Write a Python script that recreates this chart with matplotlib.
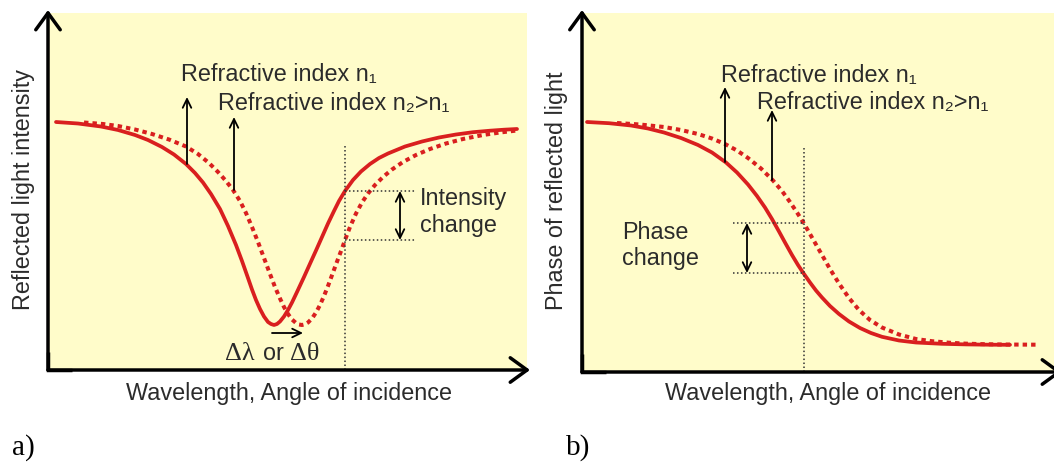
import matplotlib
matplotlib.use("Agg")
import matplotlib.pyplot as plt
from matplotlib.lines import Line2D

plt.rcParams['font.family'] = ['Liberation Sans', 'DejaVu Sans']

# ---- Panel a: reflected intensity dip (arbitrary units) ----
dip_n1_x = [8, 30, 53, 70, 87, 100, 114, 126, 138, 147, 155, 163, 172, 180, 188, 194,
            200, 204, 208, 212, 216, 220, 223, 226, 229, 232, 236, 240, 244, 249, 256,
            263, 268, 274, 280, 286, 291, 297, 305, 313, 322, 331, 340, 357, 374, 391,
            408, 425, 442, 456, 469]
dip_n1_y = [248, 246.5, 243.5, 240, 235, 230, 223, 215.5, 206, 197, 187.5, 176, 161, 144,
            125, 109, 92, 80.5, 70, 61, 53.5, 48, 46, 45, 46, 48.5, 53.5, 60, 67.5, 78, 93,
            108.5, 119.5, 133, 146.5, 159, 169, 179, 190, 198.5, 206, 212, 216.5, 223.5,
            228.5, 232.5, 235.5, 237.8, 239.3, 240.3, 241]
dip_n2_x = [36, 55, 70, 87, 104, 121, 138, 150, 161, 170, 178, 185, 192, 198, 204, 210,
            216, 222, 227, 232, 236, 240, 244, 248, 251, 254, 257, 260, 264, 268, 272,
            276, 280, 285, 290, 294, 297, 302, 308, 314, 320, 327, 335, 344, 355, 368,
            382, 398, 415, 435, 452, 469]
dip_n2_y = [247.5, 246, 244, 240.5, 236, 230.5, 223.5, 216, 207, 198, 189, 180, 169, 157,
            143, 128, 112, 96, 83, 71.5, 63, 56, 50.5, 47, 45.5, 45, 45.7, 47.5, 51.5,
            57.5, 65, 74, 84, 97.5, 111, 121.5, 130, 143, 156.5, 167.5, 176.5, 185, 193,
            200.5, 208, 215, 221, 226.5, 231, 235, 237.5, 239.5]

# ---- Panel b: phase of reflected light (arbitrary units) ----
phase_n1_x = [5, 27, 49, 66, 82, 99, 116, 130, 144, 155, 166, 175, 183, 190, 197, 203,
              210, 216, 221, 228, 234, 240, 248, 257, 267, 278, 289, 300, 317, 334, 360,
              384, 406, 428]
phase_n1_y = [250, 248.8, 246.5, 243.5, 239.5, 234, 227, 219.5, 209.5, 199.5, 187.5,
              176, 164.5, 153, 140.5, 129.5, 117, 107, 99.5, 89.5, 81.5, 74.5, 66, 58,
              50.5, 44, 39, 35.2, 31.5, 29.5, 28.2, 27.6, 27.3, 27.2]
phase_n2_x = [35, 58, 82, 99, 116, 130, 143, 155, 166, 179, 191, 200, 208, 216, 221,
              226, 232, 240, 248, 257, 267, 277, 288, 300, 317, 334, 350, 367, 383, 398,
              420, 455]
phase_n2_y = [249, 247.5, 245, 242, 238, 233.5, 228, 221.5, 214, 203.5, 191.5, 181,
              170, 158, 150, 141.5, 131, 117, 103, 88.5, 74, 62, 52, 44.5, 37.5, 33,
              30.8, 29.3, 28.4, 27.9, 27.5, 27.3]

# operating point and readouts (where each curve crosses the probe line)
probe_a_x = 297
probe_a_levels = [179, 130]
probe_b_x = 221.5
probe_b_levels = [149, 99]

label_n1 = 'Refractive index n\u2081'
label_n2 = 'Refractive index n\u2082>n\u2081'

W, H = 1054, 462
RED = '#d91f1f'
INK = '#2b2b2b'
BG = '#fffcca'
FS = 16.8

fig = plt.figure(figsize=(W / 100, H / 100), dpi=100)
fig.patch.set_facecolor('white')


def px_axes(left, right, bottom, top):
    return fig.add_axes([left / W, 1 - bottom / H, (right - left) / W, (bottom - top) / H])


ax_a = px_axes(48, 527, 370, 13)
ax_a.set_xlim(0, 479)
ax_a.set_ylim(0, 357)
ax_b = px_axes(582, 1054, 372, 13)
ax_b.set_xlim(0, 472)
ax_b.set_ylim(0, 359)

for ax in (ax_a, ax_b):
    ax.set_facecolor(BG)
    for s in ax.spines.values():
        s.set_visible(False)
    ax.set_xticks([])
    ax.set_yticks([])


def axis_arrows(ax, xtip, ytip):
    kw = dict(arrowstyle='->,head_length=0.55,head_width=0.4', lw=2.5, color='black',
              shrinkA=0, shrinkB=0, mutation_scale=22)
    ax.annotate('', xy=(0, ytip), xytext=(0, 0), xycoords='axes fraction',
                arrowprops=kw, annotation_clip=False)
    ax.annotate('', xy=(xtip, 0), xytext=(0, 0), xycoords='axes fraction',
                arrowprops=kw, annotation_clip=False)
    ax.add_line(Line2D([0, 0, 0.05], [0.05, 0, 0], transform=ax.transAxes, color='black',
                       lw=2.5, solid_joinstyle='miter', solid_capstyle='butt',
                       clip_on=False))


axis_arrows(ax_a, 1 + 3 / 479, 1 + 3 / 357)
axis_arrows(ax_b, 1 + 8 / 472, 1 + 3 / 359)

dotted = (0, (1.1, 1.0))
guide = dict(color='#333333', lw=1.1, ls=(0, (1, 1.6)))
thin_arrow = dict(arrowstyle='->,head_length=0.45,head_width=0.22', lw=1.3, color='black',
                  shrinkA=0, shrinkB=0, mutation_scale=14)
double_arrow = dict(arrowstyle='<->,head_length=0.45,head_width=0.22', lw=1.3,
                    color='black', shrinkA=0, shrinkB=0, mutation_scale=14)
serif = ['Liberation Serif', 'DejaVu Serif']

# ---- draw panel a ----
ax_a.plot(dip_n2_x, dip_n2_y, color=RED, lw=2.9, ls=dotted, dash_capstyle='butt')
ax_a.plot(dip_n1_x, dip_n1_y, color=RED, lw=2.7, solid_capstyle='round',
          solid_joinstyle='round')
ax_a.plot([probe_a_x, probe_a_x], [0, 226], **guide)
for lv in probe_a_levels:
    ax_a.plot([probe_a_x, 367], [lv, lv], **guide)
ax_a.annotate('', xy=(352, probe_a_levels[0]), xytext=(352, probe_a_levels[1]),
              arrowprops=double_arrow)
ax_a.text(372, 165, 'Intensity', fontsize=FS, color=INK, va='baseline')
ax_a.text(372, 138, 'change', fontsize=FS, color=INK, va='baseline')

ax_a.annotate('', xy=(139, 273), xytext=(139, 206), arrowprops=thin_arrow)
ax_a.annotate('', xy=(186, 253), xytext=(186, 180), arrowprops=thin_arrow)
ax_a.text(133, 289, label_n1, fontsize=FS, color=INK, va='baseline')
ax_a.text(170, 260, label_n2, fontsize=FS, color=INK, va='baseline')

ax_a.annotate('', xy=(255, 37), xytext=(224, 37), arrowprops=thin_arrow)
ax_a.text(207, 10, 'Δλ', fontsize=FS + 2, color=INK, va='baseline', ha='right',
          family=serif)
ax_a.text(225, 10, 'or', fontsize=FS, color=INK, va='baseline', ha='center')
ax_a.text(242, 10, 'Δθ', fontsize=FS + 2, color=INK, va='baseline', ha='left',
          family=serif)

# ---- draw panel b ----
ax_b.plot(phase_n2_x, phase_n2_y, color=RED, lw=2.9, ls=dotted, dash_capstyle='butt')
ax_b.plot(phase_n1_x, phase_n1_y, color=RED, lw=2.7, solid_capstyle='round',
          solid_joinstyle='round')
ax_b.plot([probe_b_x, probe_b_x], [0, 224], **guide)
for lv in probe_b_levels:
    ax_b.plot([151, probe_b_x], [lv, lv], **guide)
ax_b.annotate('', xy=(165, probe_b_levels[0]), xytext=(165, probe_b_levels[1]),
              arrowprops=double_arrow)
ax_b.text(40, 133, 'Phase', fontsize=FS, color=INK, va='baseline')
ax_b.text(40, 107, 'change', fontsize=FS, color=INK, va='baseline')

ax_b.annotate('', xy=(143, 285), xytext=(143, 210), arrowprops=thin_arrow)
ax_b.annotate('', xy=(190, 262), xytext=(190, 192), arrowprops=thin_arrow)
ax_b.text(139, 290, label_n1, fontsize=FS, color=INK, va='baseline')
ax_b.text(175, 263, label_n2, fontsize=FS, color=INK, va='baseline')

# ---- axis titles and panel tags ----
fig.text(24 / W, 1 - 190 / H, 'Reflected light intensity', rotation=90, fontsize=FS,
         color=INK, ha='center', va='center')
fig.text(556 / W, 1 - 191 / H, 'Phase of reflected light', rotation=90, fontsize=FS,
         color=INK, ha='center', va='center')
fig.text(289 / W, 1 - 400 / H, 'Wavelength, Angle of incidence', fontsize=FS,
         color=INK, ha='center', va='baseline')
fig.text(828 / W, 1 - 400 / H, 'Wavelength, Angle of incidence', fontsize=FS,
         color=INK, ha='center', va='baseline')
fig.text(12 / W, 1 - 455 / H, 'a)', fontsize=21, color='black', va='baseline',
         family=serif)
fig.text(566 / W, 1 - 455 / H, 'b)', fontsize=21, color='black', va='baseline',
         family=serif)

fig.savefig('out.png', dpi=100, facecolor='white')
